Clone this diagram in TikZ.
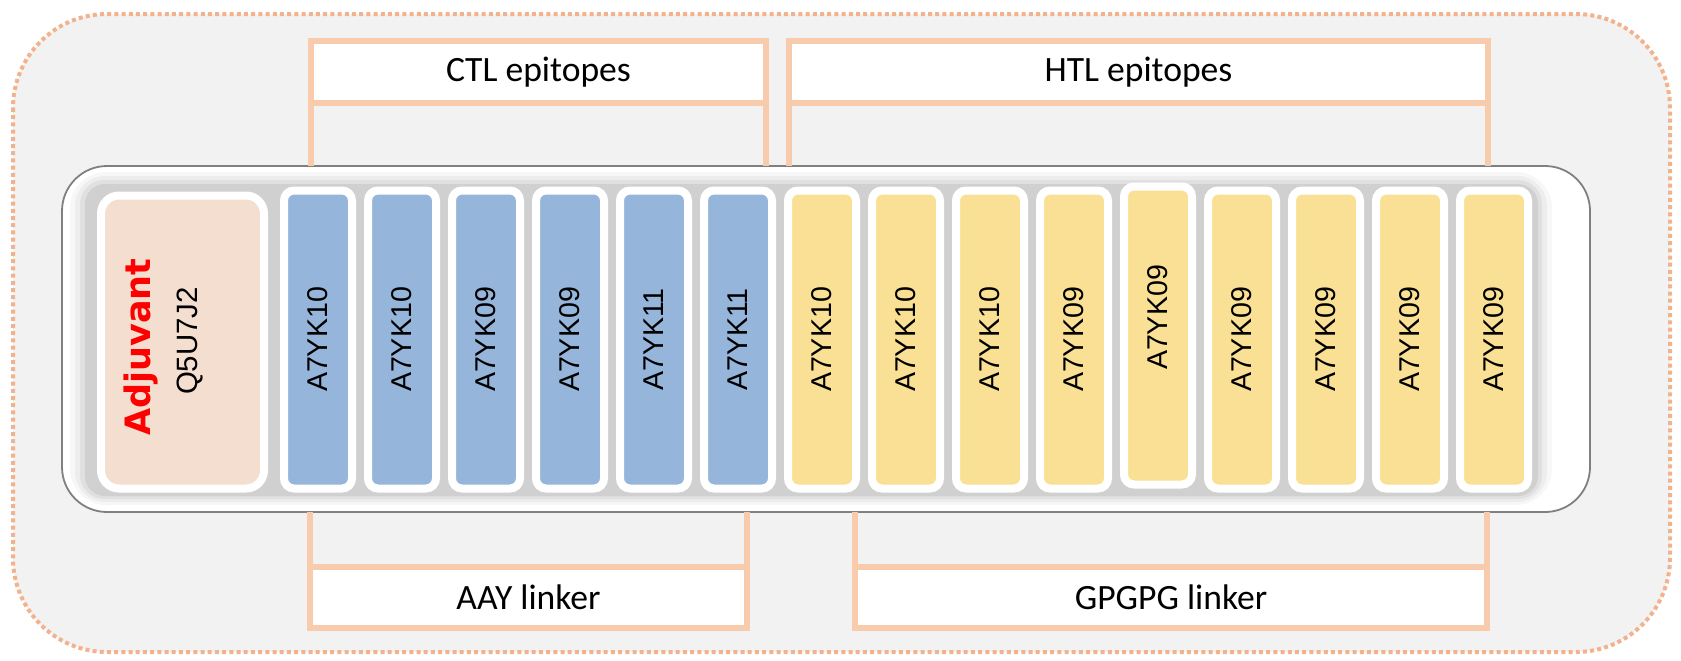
\documentclass[tikz,border=0pt]{standalone}
\usepackage{fontspec}
\setmainfont{Liberation Sans}
\newfontfamily\calibri{Carlito}
\newfontfamily\verdana{DejaVu Sans}
\usetikzlibrary{calc}

\begin{document}
\begin{tikzpicture}[x=0.5pt, y=-0.5pt,
   labelbox/.style={draw=linker, line width=3.25pt, fill=white, outer sep=0pt, inner sep=0pt, minimum height=31pt, font=\calibri\fontsize{17.8pt}{20pt}\selectfont},
   bracket/.style={linker, line width=3.25pt},
   seg/.style={rotate=90, draw=white, line width=4pt, rounded corners=5pt, minimum width=149pt, minimum height=34pt, inner sep=0pt, font=\fontsize{14.3pt}{16pt}\selectfont},
   ctlseg/.style={seg, fill=ctl},
   htlseg/.style={seg, fill=htl}]
   \definecolor{panel}{RGB}{242,242,242}
   \definecolor{dots}{RGB}{242,178,140}
   \definecolor{linker}{RGB}{248,203,173}
   \definecolor{ctl}{RGB}{149,181,219}
   \definecolor{htl}{RGB}{249,224,148}
   \definecolor{adjuv}{RGB}{243,222,207}
   \useasboundingbox (0,0) rectangle (1681,660);
   \draw[dots, fill=panel, line width=2pt, dash pattern=on 2pt off 1.6pt, rounded corners=47pt] (13,14) rectangle (1670,652);

   \node[draw=black!50, line width=0.9pt, fill=white, rounded corners=22.5pt, minimum width=764pt, minimum height=173pt, outer sep=0pt] (chain) at (826,339) {};
   \fill[black, opacity=0.03, rounded corners=18pt] (70,172) rectangle (1552,505);
   \fill[black, opacity=0.04, rounded corners=15pt] (75,176) rectangle (1547,502);
   \fill[black, opacity=0.05, rounded corners=12pt] (80,180) rectangle (1542,499);
   \fill[black, opacity=0.07, rounded corners=10pt] (85,184) rectangle (1538,496);

   \node[rotate=90, draw=white, line width=4pt, fill=adjuv, rounded corners=9pt, minimum width=146.5pt, minimum height=81.5pt] (adj) at (182.5,342) {};
   \node[rotate=90, anchor=base, text=red, font=\verdana\bfseries\fontsize{17.5pt}{20pt}\selectfont] (adjname) at (150,347) {Adjuvant};
   \node[rotate=90, anchor=base, font=\fontsize{14.7pt}{16pt}\selectfont] (adjcode) at (197,341) {Q5U7J2};

   \node[ctlseg] (c1) at (318,339.5) {A7YK10};
   \node[ctlseg] (c2) at (402,339.5) {A7YK10};
   \node[ctlseg] (c3) at (486,339.5) {A7YK09};
   \node[ctlseg] (c4) at (570,339.5) {A7YK09};
   \node[ctlseg] (c5) at (654,339.5) {A7YK11};
   \node[ctlseg] (c6) at (738,339.5) {A7YK11};
   \node[htlseg] (h1) at (822,339.5) {A7YK10};
   \node[htlseg] (h2) at (906,339.5) {A7YK10};
   \node[htlseg] (h3) at (990,339.5) {A7YK10};
   \node[htlseg] (h4) at (1074,339.5) {A7YK09};
   \node[htlseg] (h5) at (1158,335.5) {\hspace*{18pt}A7YK09};
   \node[htlseg] (h6) at (1242,339.5) {A7YK09};
   \node[htlseg] (h7) at (1326,339.5) {A7YK09};
   \node[htlseg] (h8) at (1410,339.5) {A7YK09};
   \node[htlseg] (h9) at (1494,339.5) {A7YK09};

   \node[labelbox, minimum width=227.5pt] (ctlhead) at (538.5,72) {CTL epitopes};
   \node[labelbox, minimum width=349.5pt] (htlhead) at (1138.5,72) {HTL epitopes};
   \node[labelbox, minimum width=218.5pt, minimum height=30.5pt] (aayfoot) at (528.5,597.5) {AAY linker};
   \node[labelbox, minimum width=316pt, minimum height=30.5pt] (gpgfoot) at (1171,597.5) {GPGPG linker};

   \draw[bracket] (ctlhead.south west) -- (ctlhead.south west |- chain.north);
   \draw[bracket] (ctlhead.south east) -- (ctlhead.south east |- chain.north);
   \draw[bracket] (htlhead.south west) -- (htlhead.south west |- chain.north);
   \draw[bracket] (htlhead.south east) -- (htlhead.south east |- chain.north);
   \draw[bracket] (aayfoot.north west) -- (aayfoot.north west |- chain.south);
   \draw[bracket] (aayfoot.north east) -- (aayfoot.north east |- chain.south);
   \draw[bracket] (gpgfoot.north west) -- (gpgfoot.north west |- chain.south);
   \draw[bracket] (gpgfoot.north east) -- (gpgfoot.north east |- chain.south);
\end{tikzpicture}
\end{document}
